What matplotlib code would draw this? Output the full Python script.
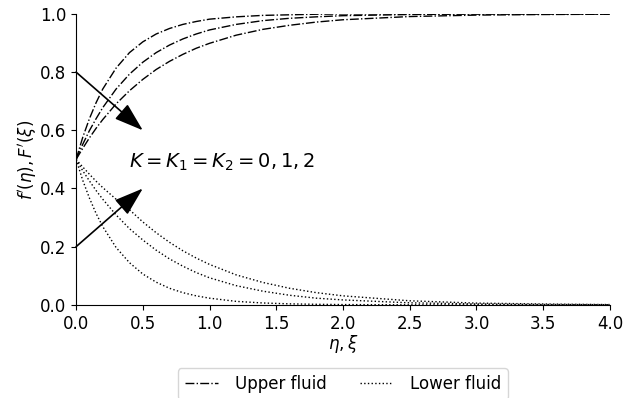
import matplotlib
matplotlib.use("Agg")  # No display in the sandbox
import matplotlib.pyplot as plt  # Importing matplotlib for plotting

# Similarity coordinate (eta for the upper fluid, xi for the lower fluid)
eta = [0.0, 0.05, 0.1, 0.15, 0.2, 0.3, 0.4, 0.5, 0.6, 0.7, 0.8, 0.9, 1.0,
       1.2, 1.4, 1.6, 1.8, 2.0, 2.5, 3.0, 3.5, 4.0]

# Upper fluid velocity f'(eta), one list per K = 0, 1, 2
upper_k0 = [0.500, 0.576, 0.640, 0.695, 0.742, 0.814, 0.867, 0.904, 0.931, 0.950, 0.964,
            0.974, 0.982, 0.990, 0.995, 0.997, 0.999, 1.000, 1.000, 1.000, 1.000, 1.000]
upper_k1 = [0.500, 0.552, 0.599, 0.640, 0.678, 0.742, 0.793, 0.834, 0.867, 0.893, 0.914,
            0.931, 0.945, 0.964, 0.977, 0.985, 0.990, 0.994, 0.998, 1.000, 1.000, 1.000]
upper_k2 = [0.500, 0.538, 0.574, 0.607, 0.637, 0.691, 0.736, 0.775, 0.809, 0.837, 0.861,
            0.882, 0.899, 0.927, 0.947, 0.961, 0.972, 0.980, 0.991, 0.996, 0.998, 0.999]

# Lower fluid velocity F'(xi), one list per K = 0, 1, 2
lower_k0 = [0.500, 0.428, 0.367, 0.314, 0.269, 0.197, 0.145, 0.106, 0.078, 0.057, 0.042,
            0.031, 0.023, 0.012, 0.0065, 0.0035, 0.0019, 0.001, 0.0002, 0.0, 0.0, 0.0]
lower_k1 = [0.500, 0.461, 0.426, 0.393, 0.363, 0.309, 0.262, 0.223, 0.188, 0.158, 0.133,
            0.111, 0.093, 0.066, 0.047, 0.033, 0.023, 0.017, 0.007, 0.003, 0.0013, 0.0006]
lower_k2 = [0.500, 0.474, 0.449, 0.425, 0.403, 0.363, 0.327, 0.285, 0.248, 0.215, 0.186,
            0.161, 0.139, 0.103, 0.077, 0.057, 0.042, 0.031, 0.014, 0.006, 0.003, 0.001]

xticks = [0.0, 0.5, 1.0, 1.5, 2.0, 2.5, 3.0, 3.5, 4.0]
yticks = [0.0, 0.2, 0.4, 0.6, 0.8, 1.0]

fig = plt.figure(figsize=(6.34, 3.98), dpi=100)
ax = fig.add_axes([0.12, 0.234, 0.842, 0.731])

# Upper fluid curves (dash-dot)
ax.plot(eta, upper_k0, color="k", linestyle="-.", linewidth=1, label="Upper fluid")
ax.plot(eta, upper_k1, color="k", linestyle="-.", linewidth=1)
ax.plot(eta, upper_k2, color="k", linestyle="-.", linewidth=1)

# Lower fluid curves (dotted)
ax.plot(eta, lower_k0, color="k", linestyle=":", linewidth=1, label="Lower fluid")
ax.plot(eta, lower_k1, color="k", linestyle=":", linewidth=1)
ax.plot(eta, lower_k2, color="k", linestyle=":", linewidth=1)

# Arrows showing increasing K
arrow = dict(arrowstyle="-|>,head_length=0.9,head_width=0.3", color="k",
             lw=1.2, mutation_scale=20, shrinkA=0, shrinkB=0)
ax.annotate("", xy=(0.5, 0.6), xytext=(0.0, 0.8), arrowprops=arrow, annotation_clip=False)
ax.annotate("", xy=(0.5, 0.4), xytext=(0.0, 0.2), arrowprops=arrow, annotation_clip=False)
ax.text(0.4, 0.49, r"$K = K_1 = K_2 = 0, 1, 2$", fontsize=14, va="center")

ax.set_xlim(0, 4)
ax.set_ylim(0, 1)
ax.set_xticks(xticks)
ax.set_yticks(yticks)
ax.tick_params(labelsize=12)
ax.spines["top"].set_visible(False)
ax.spines["right"].set_visible(False)
ax.set_xlabel(r"$\eta, \xi$", fontsize=12, labelpad=0)
ax.set_ylabel(r"$f'(\eta), F'(\xi)$", fontsize=12, labelpad=0.5)

ax.legend(loc="upper center", bbox_to_anchor=(0.5, -0.19), ncol=2, fontsize=12,
          columnspacing=2.0, handletextpad=1.0)

fig.savefig("out.png", dpi=100)
